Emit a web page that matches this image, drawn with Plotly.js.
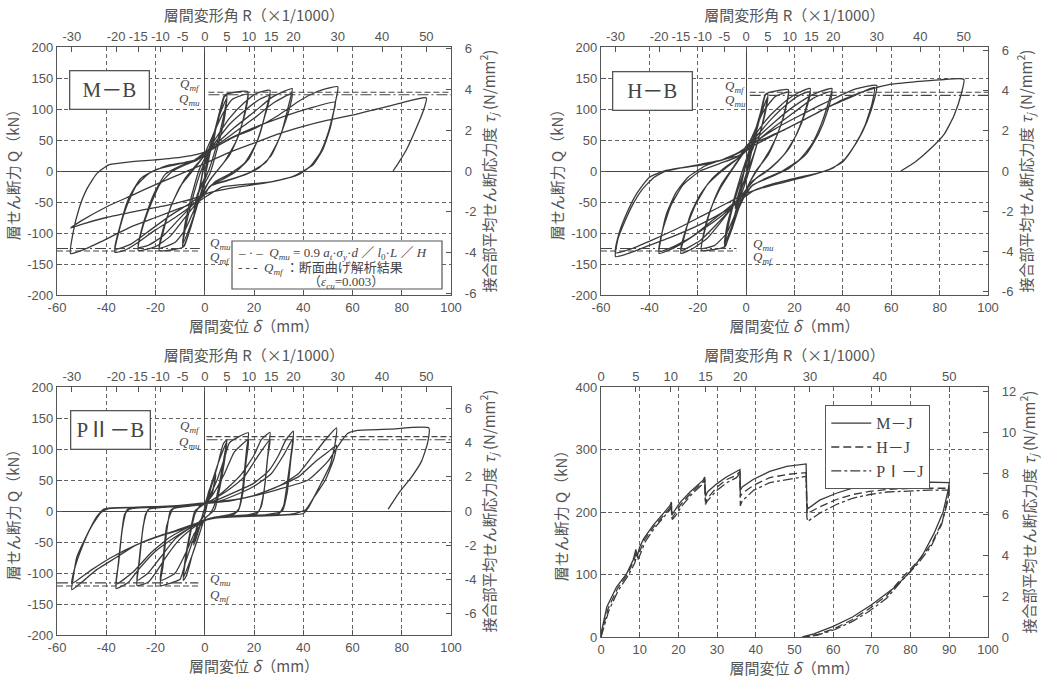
<!DOCTYPE html>
<html><head><meta charset="utf-8">
<script src="https://cdn.plot.ly/plotly-3.0.1.min.js"></script>
<style>html,body{margin:0;padding:0;background:#fff}#chart{width:1044px;height:678px}</style>
</head><body><div id="chart"></div>
<script>
// ---------------- data ----------------
const deltaTicks = [-60,-40,-20,0,20,40,60,80,100];
const qTicks = [-200,-150,-100,-50,0,50,100,150,200];
const tauTicks = [-6,-4,-2,0,2,4,6];
const rTicks = [-30,-20,-15,-10,-5,0,5,10,15,20,30,40,50];
const deltaTicksJ = [0,10,20,30,40,50,60,70,80,90,100];
const qTicksJ = [0,100,200,300,400];
const tauTicksJ = [0,2,4,6,8,10,12];
const rTicksJ = [0,5,10,15,20,30,40,50];
const mmPerR = 1.8;                       // δ (mm) per R (×1/1000)
const tauPerQ = [6/197.5, 6/195, 4/110.5, 12/392.5];

// reference strengths [upper, lower] (kN)
const mbQmf = [127, -129], mbQmu = [123, -125];
const hbQmf = [127, -129], hbQmu = [122, -125];
const pbQmf = [120, -121], pbQmu = [115, -116];

// M-B hysteresis (δ mm, Q kN)
const mbPath = [[0,0],
[2,35],[4.5,70],[3,40],[0,15],[-2,-25],[-4.5,-68],[-3,-40],[0,-12],
[2,30],[4.5,68],[3,38],[0,12],[-2,-28],[-4.5,-66],[-3,-38],[0,-10],
[3,45],[6,90],[8,120],[9,122],[8,95],[5,45],[2,5],[0,-15],[-3,-55],[-6,-95],[-8.5,-121],[-9,-123],[-8,-95],[-5,-45],[-2,-5],[0,15],
[3,50],[6,90],[9,118],[8,85],[5,35],[2,-5],[0,-20],[-3,-55],[-6,-90],[-9,-118],[-8,-85],[-5,-35],[-2,5],[0,20],
[3,50],[6,95],[8,122],[12,127],[17.5,128],[16.5,100],[14,60],[10,25],[6,5],[2,-15],[0,-30],[-3,-55],[-6,-95],[-8.5,-122],[-13,-127],[-18.5,-128],[-17,-100],[-14,-60],[-10,-25],[-6,-5],[-2,15],[0,28],
[3,55],[7,90],[11,115],[17.5,124],[16.5,95],[13,50],[8,15],[3,-10],[0,-28],[-4,-60],[-8,-95],[-12,-115],[-18.5,-124],[-17,-95],[-13,-50],[-8,-12],[-3,12],[0,25],
[4,50],[10,85],[16,110],[21,125],[26.5,130],[25,100],[22,55],[18,20],[13,0],[8,-12],[3,-22],[0,-35],[-4,-55],[-9,-80],[-14,-105],[-20,-122],[-27,-128],[-25.5,-95],[-22,-55],[-18,-20],[-13,0],[-8,10],[-3,18],[0,28],
[4,45],[10,75],[17,100],[22,115],[26.5,122],[24.5,90],[21,45],[16,12],[10,-5],[4,-18],[0,-35],[-5,-55],[-11,-80],[-17,-105],[-23,-120],[-27,-123],[-25,-85],[-21,-40],[-16,-5],[-10,8],[-4,18],[0,30],
[5,45],[12,70],[20,95],[27,118],[32,128],[35.5,133],[34,105],[31,60],[27,25],[22,5],[15,-8],[8,-17],[2,-25],[0,-38],[-5,-55],[-12,-75],[-20,-95],[-27,-115],[-32,-127],[-36.5,-131],[-35,-100],[-32,-60],[-28,-25],[-23,-5],[-16,8],[-8,14],[-2,20],[0,30],
[5,42],[12,62],[20,85],[28,110],[35.5,125],[34,95],[30,50],[25,15],[18,-3],[10,-14],[3,-22],[0,-35],[-6,-52],[-14,-72],[-22,-95],[-30,-118],[-36.5,-126],[-34.5,-90],[-31,-45],[-26,-12],[-20,2],[-12,10],[-4,17],[0,28],
[5,40],[12,55],[20,68],[30,90],[38,112],[45,127],[54,136],[53,110],[51,70],[48,35],[44,10],[40,0],[35,-10],[26,-18],[15,-22],[7,-26],[1,-40],[-3,-50],[-10,-60],[-20,-75],[-30,-90],[-40,-110],[-48,-125],[-54.5,-133],[-53.5,-100],[-51,-60],[-48,-30],[-44,-5],[-39,10],[-32,14],[-20,18],[-10,22],[-2,28],
[3,35],[10,52],[20,70],[30,85],[40,98],[53,111],[52,90],[50,60],[47,30],[43,8],[38,-6],[30,-15],[20,-22],[10,-28],[2,-35],[-5,-45],[-15,-55],[-28,-65],[-40,-75],[-50,-86],[-54.5,-92],
[-50,-80],[-40,-58],[-30,-40],[-20,-22],[-10,-5],[0,12],[10,30],[20,45],[30,60],[40,72],[50,82],[60,90],[70,100],[80,110],[90,118],[89,100],[86,70],[82,35],[79,15],[76.5,0]];

// H-B hysteresis
const hbPath = [[0,0],
[2,30],[4.5,65],[3,40],[0,15],[-2,-20],[-4.5,-60],[-3,-38],[0,-10],
[2,30],[4.5,62],[3,38],[0,12],[-2,-22],[-4.5,-58],[-3,-35],[0,-8],
[3,45],[6,90],[8,123],[9,124],[8,100],[6,65],[3,25],[0,-5],[-3,-45],[-6,-90],[-8.5,-121],[-9,-123],[-8,-100],[-6,-65],[-3,-25],[0,10],
[3,50],[6,90],[9,120],[8,95],[5,50],[2,10],[0,-15],[-3,-50],[-6,-90],[-9,-118],[-8,-90],[-5,-45],[-2,-5],[0,18],
[3,55],[6,95],[8,124],[12,129],[17.5,131],[16.5,105],[14,70],[10,35],[6,10],[2,-15],[0,-35],[-3,-60],[-6,-95],[-9,-122],[-14,-127],[-18.5,-128],[-17.5,-100],[-15,-65],[-11,-30],[-7,-5],[-3,18],[0,35],
[3,60],[7,95],[12,120],[17.5,127],[16,95],[13,60],[9,25],[4,0],[0,-30],[-4,-65],[-8,-100],[-13,-120],[-18.5,-125],[-17,-95],[-14,-55],[-10,-20],[-5,8],[0,35],
[4,60],[10,90],[17,115],[22,127],[26.5,133],[25,105],[22,70],[18,38],[13,15],[8,-2],[3,-15],[0,-30],[-4,-50],[-10,-80],[-16,-108],[-22,-125],[-27,-133],[-25.5,-105],[-23,-70],[-19,-38],[-14,-12],[-8,8],[-3,22],[0,40],
[4,55],[10,82],[17,108],[22,122],[26.5,128],[24.5,95],[21,60],[16,28],[10,5],[4,-12],[0,-30],[-5,-55],[-12,-85],[-19,-112],[-27,-128],[-25,-95],[-21,-55],[-16,-22],[-10,0],[-4,18],[0,32],
[5,55],[12,80],[20,105],[27,122],[32,130],[35.5,133],[34,110],[31,75],[27,42],[22,18],[15,0],[8,-12],[2,-25],[0,-38],[-5,-55],[-12,-78],[-20,-100],[-27,-118],[-32,-128],[-36,-133],[-35,-105],[-33,-70],[-29,-35],[-24,-10],[-17,8],[-10,18],[-3,25],[0,35],
[5,50],[12,72],[20,95],[28,118],[35.5,128],[33.5,95],[30,60],[25,28],[18,5],[10,-10],[3,-22],[0,-35],[-6,-55],[-14,-80],[-22,-105],[-30,-122],[-36,-130],[-34.5,-95],[-31,-55],[-26,-22],[-19,0],[-11,12],[-4,22],[0,32],
[5,50],[12,68],[20,85],[30,105],[38,120],[45,132],[54,138],[53,115],[50,80],[46,48],[41,20],[36,5],[30,-3],[20,-12],[10,-22],[3,-32],[0,-40],[-5,-55],[-12,-72],[-20,-88],[-30,-105],[-40,-120],[-48,-132],[-54,-138],[-53,-110],[-50,-80],[-47,-55],[-43,-30],[-38,-10],[-33,0],[-27,5],[-20,10],[-10,18],[-3,30],[0,38],
[5,48],[15,65],[25,85],[35,105],[45,122],[53,135],[52,108],[49,72],[45,42],[40,15],[34,2],[26,-8],[16,-18],[6,-28],[0,-36],[-8,-52],[-18,-72],[-28,-92],[-38,-110],[-47,-125],[-54,-132],[-52.5,-100],[-49,-65],[-45,-35],[-40,-10],[-34,0],[-27,5],[-18,10],[-8,20],[0,35],
[10,55],[20,75],[30,95],[40,115],[50,130],[60,140],[70,144],[80,147],[90,148],[89,125],[86,90],[82,60],[76,35],[70,15],[64,0]];

// PII-B hysteresis
const pbPath = [[0,0],
[1.5,30],[4.5,60],[3,30],[0,5],[-2,-25],[-4.5,-55],[-3,-25],[0,-5],
[1.5,28],[4.5,58],[3,28],[0,5],[-2,-22],[-4.5,-52],[-3,-22],[0,-5],
[2,30],[5,70],[7.5,108],[9,115],[8,90],[6,45],[4,10],[2,-5],[0,-12],[-2,-35],[-5,-70],[-7.5,-105],[-8.7,-112],[-8,-85],[-6,-40],[-4,-5],[-2,8],[0,12],
[2,35],[5,72],[9,112],[8,80],[6,35],[4,2],[0,-12],[-2,-35],[-5,-70],[-8.7,-108],[-8,-80],[-6,-35],[-4,0],[0,12],
[2,25],[5,50],[8,85],[10,110],[13,118],[17.7,126],[17,100],[15.5,40],[14,5],[12,-5],[6,-10],[0,-15],[-2,-25],[-5,-50],[-8,-85],[-10,-110],[-13,-115],[-18,-120],[-17,-90],[-15.5,-35],[-14,0],[-12,6],[-6,8],[0,12],
[3,25],[8,60],[12,95],[17.7,115],[16.8,80],[15.5,30],[13.5,0],[10,-6],[4,-10],[0,-15],[-4,-35],[-8,-70],[-12,-100],[-18,-112],[-17,-80],[-15.5,-25],[-13,3],[-8,7],[-2,10],[0,12],
[4,20],[10,40],[15,60],[20,90],[23,115],[26.5,127],[26,105],[24.5,45],[23,8],[21,-5],[14,-8],[6,-10],[0,-15],[-4,-25],[-10,-45],[-15,-70],[-20,-100],[-23,-115],[-27.5,-120],[-27,-95],[-25.5,-40],[-24,-5],[-22,5],[-14,7],[-6,9],[0,12],
[4,20],[10,35],[16,55],[21,85],[26.5,115],[25.5,85],[24,30],[22,0],[18,-6],[8,-9],[0,-14],[-5,-25],[-12,-45],[-18,-75],[-23,-100],[-27.5,-112],[-26.5,-80],[-25,-25],[-23,2],[-16,6],[-6,8],[0,12],
[5,18],[12,30],[20,45],[26,65],[30,90],[33,115],[36,129],[35.5,105],[33.5,45],[32,8],[30,-5],[20,-8],[10,-10],[2,-12],[0,-16],[-5,-25],[-12,-42],[-20,-65],[-27,-95],[-31,-115],[-36,-125],[-35.5,-100],[-34,-45],[-32.5,-5],[-30,5],[-20,7],[-10,8],[0,12],
[5,15],[12,25],[20,40],[27,60],[32,90],[36,118],[35,85],[33.5,30],[31.5,0],[25,-6],[15,-8],[5,-10],[0,-15],[-6,-25],[-14,-42],[-22,-68],[-29,-98],[-36,-118],[-35,-85],[-33.5,-30],[-31.5,2],[-22,6],[-10,8],[0,12],
[8,15],[20,25],[30,40],[38,60],[44,90],[49,115],[53.5,134],[53,110],[51,75],[46,35],[42,5],[40,-4],[30,-7],[15,-9],[5,-11],[0,-15],[-5,-22],[-12,-32],[-20,-42],[-28,-55],[-36,-75],[-44,-95],[-50,-115],[-54,-127],[-53.5,-110],[-52,-75],[-48,-40],[-44,-10],[-41,3],[-38,5],[-25,6],[-10,9],[0,13],
[10,16],[20,25],[30,40],[38,55],[45,80],[50,95],[53.5,106],[52.5,85],[49,50],[44,20],[41,2],[35,-5],[20,-8],[5,-11],[0,-15],[-8,-28],[-18,-40],[-28,-55],[-38,-75],[-46,-95],[-54,-117],[-53,-95],[-50,-60],[-46,-25],[-42,-2],[-39,4],[-25,6],[-10,9],[0,13],
[15,20],[30,35],[42,50],[50,80],[55,110],[58,125],[62,130],[75,132],[91,134],[90.5,110],[88,80],[84,55],[79,30],[74.5,3]];

// monotonic tests (δ mm, Q kN)
const mjPath = [[0,0],[0.2,11],[1.5,48],[4,80],[6.6,101],[8.3,123],[9,140],[9.4,128],[9.6,135],[10,144],[11,157],[13.5,179],[16,197],[17.8,210],[18.2,216],[18.3,195],[19,202],[20.4,215],[23,232],[26.4,251],[26.8,256],[27,225],[27.5,232],[29.9,245],[32.4,256],[35,264],[35.9,268],[36,235],[36.5,240],[39.3,252],[43.6,265],[48,273],[51,275],[53,277],[53.2,215],[53.4,205],[56.5,219],[60.8,230],[65,238],[69.4,242],[72,244],[74.6,240],[78,246],[82.4,248],[89.2,248],[90,247],[89.7,235],[88.4,200],[86,165],[83,130],[80,105],[76,80],[70,52],[65,32],[60,17],[55,5],[52,0]];
const hjPath = [[0,0],[0.3,10],[1.8,45],[4.3,78],[6.8,100],[8.5,122],[9.2,138],[9.5,126],[10.2,140],[11.2,155],[13.7,177],[16.2,195],[17.8,206],[18.1,213],[18.3,190],[19.2,198],[20.6,212],[23.2,230],[26.5,249],[26.8,253],[27,215],[27.5,222],[30,240],[32.5,252],[35,259],[35.9,265],[36,225],[36.5,230],[39.5,243],[43.6,255],[48,260],[51,262],[53,263],[53.2,205],[53.4,198],[56.5,208],[60.8,220],[65,228],[69.4,233],[74,236],[80,238],[85,238],[90,238],[89.6,222],[88.2,185],[85.5,150],[82,122],[78,96],[73.8,66],[69,44],[65,28],[60.5,14],[56,4],[52.5,0]];
const pjPath = [[0,0],[0.4,8],[2,42],[4.5,75],[7,98],[8.7,118],[9.3,132],[9.6,124],[10.4,138],[11.4,152],[13.9,175],[16.4,193],[17.9,204],[18.2,210],[18.4,188],[19.4,195],[20.8,209],[23.4,228],[26.5,246],[26.8,250],[27,212],[27.5,218],[30,235],[32.5,247],[35,255],[35.9,262],[36,210],[36.5,218],[39.5,235],[43.6,247],[48,252],[51,255],[53,257],[53.2,192],[53.4,185],[56.5,198],[60.8,212],[65,222],[69.4,228],[74,232],[80,234],[85,235],[90,235],[89.5,215],[88,180],[85.3,145],[82,118],[78,92],[73.8,62],[69,40],[65,25],[60.5,12],[56,3],[52.5,0]];

// ---------------- drawing ----------------
const W = x => x/1044, H = y => 1 - y/678;
const TXT = '#555';
const jp = 'Noto Sans CJK JP';
const num = 'Liberation Sans, Arial, sans-serif';
const titleFont = {family: jp, size: 15, color: TXT};
const txt = a => a.map(v => String(v));

function baseAxis(extra){
  return Object.assign({
    showline: true, linecolor: '#555', linewidth: 1.2, mirror: false,
    ticks: 'inside', ticklen: 5, tickcolor: '#555', tickwidth: 1,
    tickfont: {family: num, size: 13, color: TXT},
    showgrid: false, zeroline: false, fixedrange: true
  }, extra);
}

const traces = [];
const layout = {
  width: 1044, height: 678, margin: {l:0, r:0, t:0, b:0},
  paper_bgcolor: '#fff', plot_bgcolor: 'rgba(0,0,0,0)',
  font: {family: num, color: TXT},
  showlegend: true, annotations: [], shapes: []
};

const xTitle = '層間変位 <i>δ</i>（mm）';
const rTitle = '層間変形角 R（×1/1000）';
const qTitle = '層せん断力 Q（kN）';
const tTitle = '接合部平均せん断応力度 <i>τ<sub>j</sub></i> (N/mm<sup>2</sup>)';

function addPanel(i, px0, px1, py0, py1, xr, yr, xt, yt, rt, tt, tauK){
  const n = 4*i;
  const xa = 'xaxis' + (n+1 === 1 ? '' : n+1), xb = 'xaxis' + (n+2);
  const ya = 'yaxis' + (n+1 === 1 ? '' : n+1), yb = 'yaxis' + (n+2);
  const xs = 'x' + (n+1 === 1 ? '' : n+1), ys = 'y' + (n+1 === 1 ? '' : n+1);
  layout[xa] = baseAxis({domain: [W(px0), W(px1)], anchor: ys, range: xr,
    tickvals: xt, ticktext: txt(xt),
    showgrid: true, gridcolor: '#666', gridwidth: 1, griddash: '4px,3px',
    zeroline: true, zerolinecolor: '#444', zerolinewidth: 1,
    title: {text: xTitle, font: titleFont, standoff: 3}});
  layout[xb] = baseAxis({overlaying: xs, side: 'top', anchor: ys,
    range: [xr[0]/mmPerR, xr[1]/mmPerR], tickvals: rt, ticktext: txt(rt),
    title: {text: rTitle, font: titleFont, standoff: 3}});
  layout[ya] = baseAxis({domain: [H(py1), H(py0)], anchor: xs, range: yr,
    tickvals: yt, ticktext: txt(yt),
    showgrid: true, gridcolor: '#666', gridwidth: 1, griddash: '4px,3px',
    zeroline: true, zerolinecolor: '#444', zerolinewidth: 1,
    title: {text: qTitle, font: titleFont, standoff: 4}});
  layout[yb] = baseAxis({overlaying: ys, side: 'right', anchor: xs,
    range: [yr[0]*tauK, yr[1]*tauK], tickvals: tt, ticktext: txt(tt),
    ticklabelstandoff: 10,
    title: {text: tTitle, font: titleFont, standoff: 4}});
  traces.push({x: [], y: [], xaxis: 'x'+(n+2), yaxis: 'y'+(n+2), mode: 'lines',
    showlegend: false, hoverinfo: 'skip'});
  return {xs, ys};
}

function hyst(path, ax, dash, name, legend){
  return {x: path.map(p => p[0]), y: path.map(p => p[1]), xaxis: ax.xs, yaxis: ax.ys,
    mode: 'lines', name: name || '', showlegend: !!legend, hoverinfo: 'skip',
    line: {color: '#3a3a3a', width: 1.3, dash: dash || 'solid',
           shape: legend ? 'linear' : 'spline', smoothing: 0.5}};
}
function refLine(xr, q, dash, ax){
  return {x: xr, y: [q, q], xaxis: ax.xs, yaxis: ax.ys, mode: 'lines', showlegend: false,
    hoverinfo: 'skip', line: {color: '#444', width: 1.1, dash: dash}};
}
const dashMf = '6px,3px', dashMu = '11px,3px,2px,3px';

function qLabel(ax, x, y, sub){
  layout.annotations.push({xref: ax.xs, yref: ax.ys, x: x, y: y, xanchor: 'center', yanchor: 'middle',
    showarrow: false, text: '<i>Q<sub>' + sub + '</sub></i>',
    font: {family: 'Liberation Serif, serif', size: 13, color: '#444'}});
}
function boxLabel(cx, cy, w, text){
  layout.annotations.push({xref: 'paper', yref: 'paper', x: W(cx), y: H(cy),
    xanchor: 'center', yanchor: 'middle', showarrow: false,
    text: text, width: w, height: 33, bgcolor: '#fff', bordercolor: '#555', borderwidth: 1.3, borderpad: 2,
    font: {family: 'Liberation Serif, Noto Sans CJK JP, serif', size: 21, color: '#444'}});
}

// Panel 1: M-B
const a1 = addPanel(0, 57, 451, 47, 295, [-60,100], [-200,200], deltaTicks, qTicks, rTicks, tauTicks, tauPerQ[0]);
traces.push(hyst(mbPath, a1));
traces.push(refLine([1.5,100], mbQmf[0], dashMf, a1), refLine([1.5,100], mbQmu[0], dashMu, a1));
traces.push(refLine([-60,-2], mbQmu[1], dashMu, a1), refLine([-60,-2], mbQmf[1], dashMf, a1));
qLabel(a1, -6, 139, 'mf'); qLabel(a1, -6, 115, 'mu');
qLabel(a1, 6.2, -117, 'mu'); qLabel(a1, 6.2, -140, 'mf');
boxLabel(109, 90.5, 74, 'M－B');

// Panel 2: H-B
const a2 = addPanel(1, 601, 988, 47, 295, [-60,100], [-200,200], deltaTicks, qTicks, rTicks, tauTicks, tauPerQ[1]);
traces.push(hyst(hbPath, a2));
traces.push(refLine([1.5,100], hbQmf[0], dashMf, a2), refLine([1.5,100], hbQmu[0], dashMu, a2));
traces.push(refLine([-60,-4], hbQmu[1], dashMu, a2), refLine([-60,-4], hbQmf[1], dashMf, a2));
qLabel(a2, -4.6, 136, 'mf'); qLabel(a2, -4.6, 113, 'mu');
qLabel(a2, 7, -118, 'mu'); qLabel(a2, 7, -140, 'mf');
boxLabel(652.5, 91, 74, 'H－B');

// Panel 3: PII-B
const a3 = addPanel(2, 57, 451, 387, 635, [-60,100], [-200,200], deltaTicks, qTicks, rTicks, tauTicks, tauPerQ[2]);
traces.push(hyst(pbPath, a3));
traces.push(refLine([0.7,100], pbQmf[0], dashMf, a3), refLine([0.7,100], pbQmu[0], dashMu, a3));
traces.push(refLine([-60,-2.6], pbQmu[1], dashMu, a3), refLine([-60,-2.6], pbQmf[1], dashMf, a3));
qLabel(a3, -6, 136, 'mf'); qLabel(a3, -6, 110, 'mu');
qLabel(a3, 6.2, -111, 'mu'); qLabel(a3, 6.2, -136, 'mf');
boxLabel(110.5, 429.5, 74, 'PⅡ－B');

// Panel 4: joints (monotonic)
const a4 = addPanel(3, 601, 988, 387, 637, [0,100], [0,400], deltaTicksJ, qTicksJ, rTicksJ, tauTicksJ, tauPerQ[3]);
traces.push(hyst(mjPath, a4, 'solid', 'M－J', true));
traces.push(hyst(hjPath, a4, '8px,4px', 'H－J', true));
traces.push(hyst(pjPath, a4, '10px,3px,3px,3px', 'PⅠ－J', true));

layout.legend = {x: W(825), y: H(405), xanchor: 'left', yanchor: 'top',
  bgcolor: '#fff', bordercolor: '#555', borderwidth: 1.3,
  font: {family: 'Liberation Serif, Noto Sans CJK JP, serif', size: 16, color: '#444'},
  tracegroupgap: 0, itemwidth: 40};

// Panel 1 explanatory box
layout.shapes.push({type: 'rect', xref: 'paper', yref: 'paper', layer: 'above',
  x0: W(232), x1: W(442), y0: H(289), y1: H(241),
  fillcolor: '#fff', line: {color: '#555', width: 1.2}});
const noteFont = {family: 'Liberation Serif, Noto Sans CJK JP, serif', size: 13, color: '#444'};
layout.annotations.push(
  {xref: 'paper', yref: 'paper', x: W(236), y: H(253), xanchor: 'left', yanchor: 'middle', showarrow: false, font: noteFont,
   text: '– · –  <i>Q<sub>mu</sub></i> = 0.9 <i>a<sub>t</sub></i>·<i>σ<sub>y</sub></i>·<i>d</i> ／ <i>l</i><sub>0</sub>·<i>L</i> ／ <i>H</i>'},
  {xref: 'paper', yref: 'paper', x: W(236), y: H(268), xanchor: 'left', yanchor: 'middle', showarrow: false, font: noteFont,
   text: '- - -  <i>Q<sub>mf</sub></i> ：断面曲げ解析結果'},
  {xref: 'paper', yref: 'paper', x: W(346), y: H(283), xanchor: 'center', yanchor: 'middle', showarrow: false, font: noteFont,
   text: '（<i>ε<sub>cu</sub></i>=0.003）'}
);

Plotly.newPlot('chart', traces, layout, {displayModeBar: false, staticPlot: true});
</script>
</body></html>
